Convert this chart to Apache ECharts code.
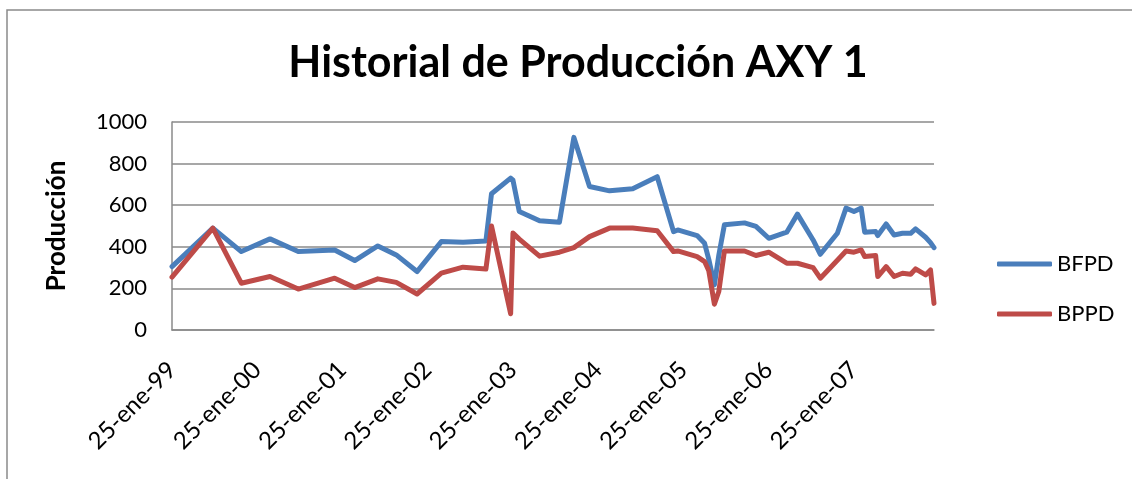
<!DOCTYPE html>
<html>
<head>
<meta charset="utf-8">
<script src="https://cdn.jsdelivr.net/npm/echarts@6/dist/echarts.min.js"></script>
<style>
	html, body { margin: 0; padding: 0; background: #fff; }
	#chartmain { width: 1132px; height: 479px; }
</style>
</head>
<body>
<div id="chartmain"></div>
<script>
// fechas de medicion
var fechas = [
	'1999-01-25', '1999-07-19', '1999-11-18', '2000-03-20', '2000-07-19', '2000-12-22',
	'2001-03-18', '2001-06-25', '2001-09-12', '2001-12-10', '2002-03-24', '2002-06-25',
	'2002-10-01', '2002-10-25', '2003-01-15', '2003-01-25', '2003-02-21', '2003-05-19',
	'2003-08-12', '2003-10-13', '2003-12-19', '2004-03-14', '2004-06-21', '2004-10-04',
	'2004-12-13', '2004-12-31', '2005-03-24', '2005-04-25', '2005-05-13', '2005-06-06',
	'2005-06-25', '2005-07-19', '2005-10-13', '2005-12-01', '2006-01-25', '2006-04-12',
	'2006-05-28', '2006-08-03', '2006-09-03', '2006-11-15', '2006-12-22', '2007-01-25',
	'2007-02-25', '2007-03-12', '2007-04-28', '2007-05-07', '2007-06-12', '2007-07-16',
	'2007-08-21', '2007-09-25', '2007-10-16', '2007-11-28', '2007-12-19', '2008-01-03'
];
var bfpd = [
	305, 490, 377, 438, 377, 385,
	334, 404, 361, 281, 425, 422,
	428, 655, 730, 720, 570, 525,
	518, 926, 690, 669, 679, 737,
	473, 481, 454, 417, 340, 217,
	360, 506, 515, 498, 441, 470,
	557, 433, 364, 465, 586, 570,
	586, 470, 473, 454, 510, 457,
	465, 465, 486, 446, 420, 396
];
var bppd = [
	254, 490, 225, 257, 197, 249,
	204, 246, 229, 173, 273, 302,
	293, 500, 78, 466, 437, 355,
	374, 396, 449, 490, 490, 477,
	377, 380, 353, 329, 285, 124,
	185, 380, 380, 358, 374, 321,
	321, 300, 249, 335, 380, 374,
	385, 353, 358, 257, 305, 257,
	273, 268, 294, 265, 289, 128
];
var nombres = ['BFPD', 'BPPD'];
var colores = ['#4A7EBB', '#BE4B48'];

// eje X en meses desde 25-ene-99
var base = Date.UTC(1999, 0, 25);
function aMeses(f) {
	var p = f.split('-');
	var t = Date.UTC(+p[0], +p[1] - 1, +p[2]);
	return (t - base) / 86400000 / 30.4375;
}
var serieB = [], serieP = [];
for (var i = 0; i < fechas.length; i++) {
	serieB.push([aMeses(fechas[i]), bfpd[i]]);
	serieP.push([aMeses(fechas[i]), bppd[i]]);
}
var maxMes = aMeses(fechas[fechas.length - 1]);

var fuente = 'Lato';
var gris = '#8a8a8a';

var option = {
	animation: false,
	title: {
		text: 'Historial de Producción AXY 1',
		left: 573,
		top: 37,
		textAlign: 'center',
		textStyle: { fontFamily: fuente, fontSize: 43, fontWeight: 'bold', color: '#000' }
	},
	legend: {
		orient: 'vertical',
		left: 992,
		top: 248,
		itemWidth: 55,
		itemHeight: 5,
		itemGap: 28,
		icon: 'roundRect',
		data: nombres,
		textStyle: { fontFamily: fuente, fontSize: 22, color: '#000' }
	},
	graphic: [{
		type: 'rect',
		shape: { x: 7, y: 10, width: 1140, height: 480 },
		style: { fill: null, stroke: gris, lineWidth: 1.5 },
		silent: true
	}],
	grid: { left: 172, right: 198, top: 122, bottom: 149 },
	xAxis: {
		type: 'value',
		min: 0,
		max: maxMes,
		interval: 12,
		axisLine: { lineStyle: { color: gris, width: 1.5 } },
		axisTick: { show: false },
		splitLine: { show: false },
		axisLabel: {
			rotate: 45,
			margin: 36,
			showMaxLabel: false,
			fontFamily: fuente,
			fontSize: 24,
			color: '#000',
			formatter: function (v) {
				var anio = 1999 + Math.round(v / 12);
				return '25-ene-' + String(anio % 100).padStart(2, '0');
			}
		}
	},
	yAxis: {
		type: 'value',
		min: 0,
		max: 1000,
		interval: 200,
		name: 'Producción',
		nameLocation: 'middle',
		nameGap: 102,
		nameTextStyle: { fontFamily: fuente, fontSize: 26, fontWeight: 'bold', color: '#000' },
		axisLine: { show: true, lineStyle: { color: gris, width: 1.5 } },
		axisTick: { show: false },
		splitLine: { lineStyle: { color: gris, width: 1.5 } },
		axisLabel: {
			margin: 25,
			fontFamily: fuente,
			fontSize: 22,
			color: '#000',
			formatter: function (v) { return String(v); }
		}
	},
	series: [{
		name: nombres[0],
		type: 'line',
		symbol: 'none',
		data: serieB,
		itemStyle: { color: colores[0] },
		lineStyle: { width: 5, color: colores[0], cap: 'round', join: 'round' }
	}, {
		name: nombres[1],
		type: 'line',
		symbol: 'none',
		data: serieP,
		itemStyle: { color: colores[1] },
		lineStyle: { width: 5, color: colores[1], cap: 'round', join: 'round' }
	}]
};

var myChart = echarts.init(document.getElementById('chartmain'));
myChart.setOption(option);
</script>
</body>
</html>
